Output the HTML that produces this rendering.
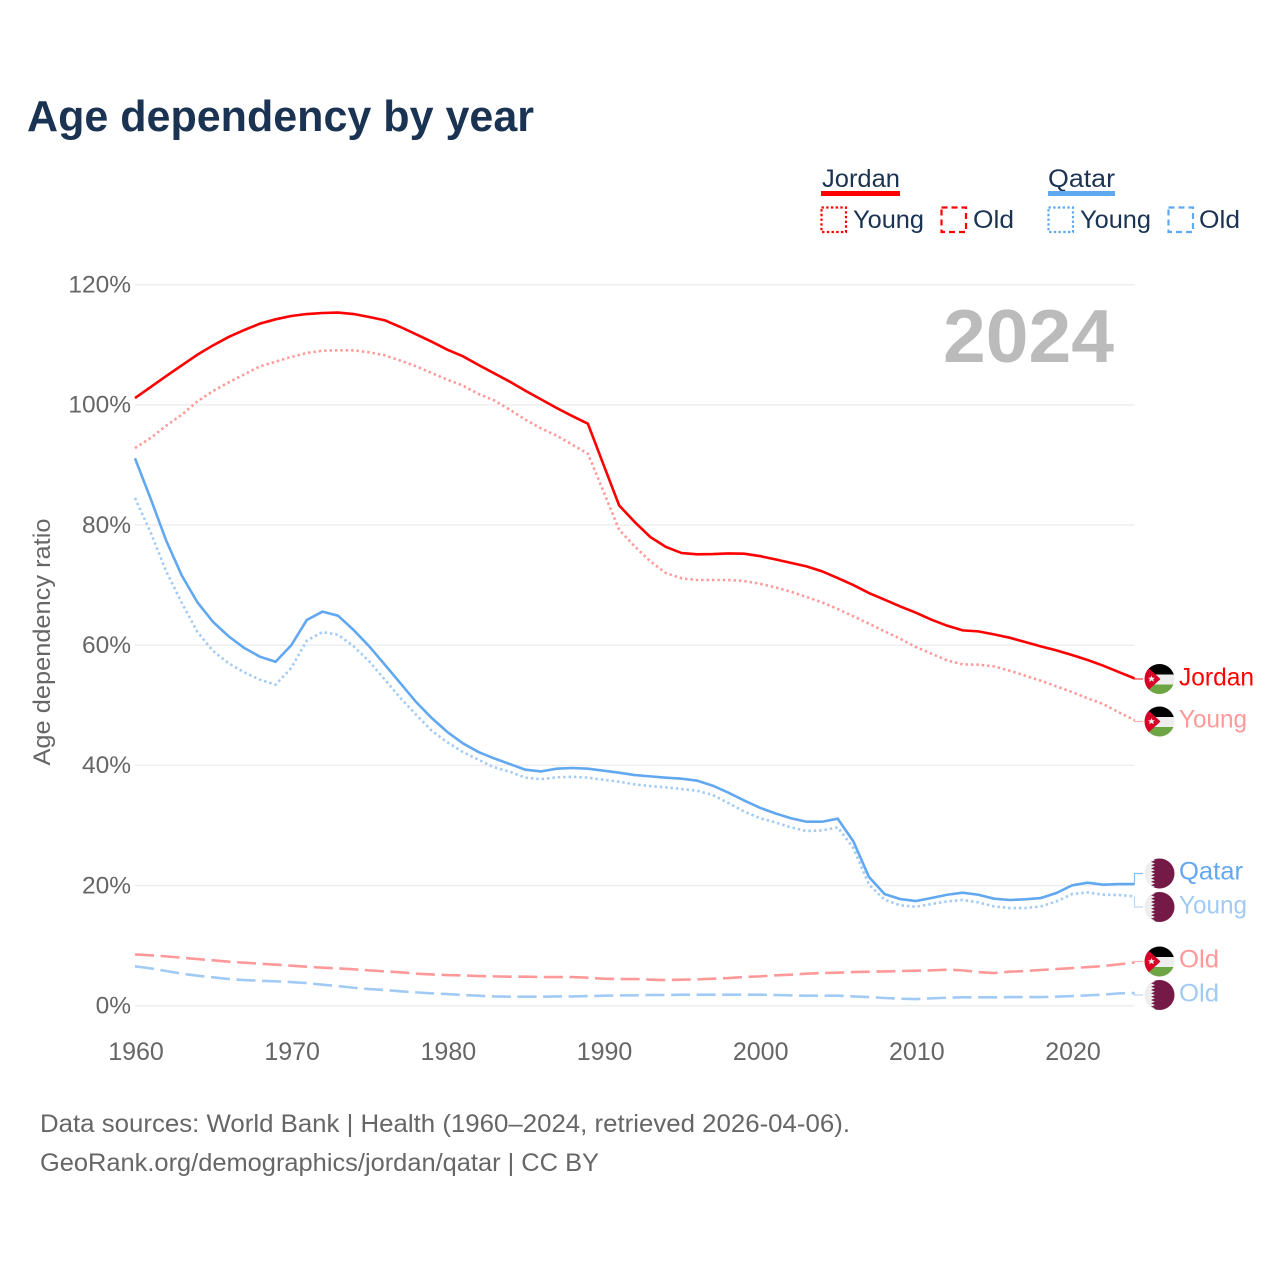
<!DOCTYPE html>
<html lang="en">
<head>
<meta charset="utf-8">
<title>Age dependency by year</title>
<style>
html,body{margin:0;padding:0;background:#fff;}
svg{display:block;font-family:"Liberation Sans",sans-serif;}
</style>
</head>
<body>
<svg id="chart" xmlns="http://www.w3.org/2000/svg" width="1280" height="1280" viewBox="0 0 1280 1280">
  <defs>
    <clipPath id="flag-clip"><circle cx="0" cy="0" r="15"/></clipPath>
    <symbol id="flag-jordan" viewBox="-15 -15 30 30" overflow="visible">
      <g clip-path="url(#flag-clip)">
        <rect x="-15" y="-15" width="30" height="10.5" fill="#000"/>
        <rect x="-15" y="-4.5" width="30" height="10" fill="#eeeeee"/>
        <rect x="-15" y="5.5" width="30" height="9.5" fill="#6da544"/>
        <polygon points="-15,-15 -11,-11 1,0 -11,11 -15,15" fill="#d80027"/>
        <polygon points="-8,-3.4 -7,-1.2 -4.6,-1.2 -6.3,0.3 -5.6,2.8 -8,1.4 -10.4,2.8 -9.7,0.3 -11.4,-1.2 -9,-1.2" fill="#eeeeee"/>
      </g>
    </symbol>
    <symbol id="flag-qatar" viewBox="-15 -15 30 30" overflow="visible">
      <g clip-path="url(#flag-clip)">
        <rect x="-15" y="-15" width="30" height="30" fill="#eeeeee"/>
        <polygon points="15,-15 -8.5,-15 -4.5,-13.3 -8.5,-11.7 -4.5,-10 -8.5,-8.3 -4.5,-6.7 -8.5,-5 -4.5,-3.3 -8.5,-1.7 -4.5,0 -8.5,1.7 -4.5,3.3 -8.5,5 -4.5,6.7 -8.5,8.3 -4.5,10 -8.5,11.7 -4.5,13.3 -8.5,15 15,15" fill="#751a46"/>
      </g>
    </symbol>
  </defs>

  <text x="27" y="131" font-size="44" font-weight="700" fill="#1a3352" textLength="507" lengthAdjust="spacingAndGlyphs">Age dependency by year</text>

  <g font-size="25" fill="#1a3352">
    <g>
      <text x="822" y="187" textLength="78" lengthAdjust="spacingAndGlyphs">Jordan</text>
      <rect x="821" y="191" width="79" height="5" fill="#ff0000"/>
      <rect x="821.5" y="207.5" width="24.5" height="24.5" fill="none" stroke="#ff0000" stroke-width="2.2" stroke-dasharray="2.4 2.3"/>
      <text x="853" y="228" textLength="71" lengthAdjust="spacingAndGlyphs">Young</text>
      <rect x="941.5" y="207.5" width="24.5" height="24.5" fill="none" stroke="#ff0000" stroke-width="2.2" stroke-dasharray="6 4"/>
      <text x="973" y="228" textLength="41" lengthAdjust="spacingAndGlyphs">Old</text>
    </g>
    <g>
      <text x="1048" y="187" textLength="67" lengthAdjust="spacingAndGlyphs">Qatar</text>
      <rect x="1048" y="191" width="67" height="5" fill="#62a8f0"/>
      <rect x="1048.5" y="207.5" width="24.5" height="24.5" fill="none" stroke="#62a8f0" stroke-width="2.2" stroke-dasharray="2.4 2.3"/>
      <text x="1080" y="228" textLength="71" lengthAdjust="spacingAndGlyphs">Young</text>
      <rect x="1168.5" y="207.5" width="24.5" height="24.5" fill="none" stroke="#62a8f0" stroke-width="2.2" stroke-dasharray="6 4"/>
      <text x="1199" y="228" textLength="41" lengthAdjust="spacingAndGlyphs">Old</text>
    </g>
  </g>

  <g id="grid"></g>
  <g id="y-ticks"></g>
  <g id="x-ticks"></g>

  <text transform="translate(50,642) rotate(-90)" text-anchor="middle" font-size="24" fill="#666666" textLength="247" lengthAdjust="spacingAndGlyphs">Age dependency ratio</text>

  <text x="943" y="362" font-size="75" font-weight="700" fill="#bbbbbb" textLength="171" lengthAdjust="spacingAndGlyphs">2024</text>

  <g id="series"></g>
  <g id="leaders"></g>

  <g>
    <use href="#flag-jordan" x="1144.5" y="664" width="30" height="30"/>
    <use href="#flag-jordan" x="1144.5" y="706.5" width="30" height="30"/>
    <use href="#flag-qatar" x="1144.5" y="858.5" width="30" height="30"/>
    <use href="#flag-qatar" x="1144.5" y="892" width="30" height="30"/>
    <use href="#flag-jordan" x="1144.5" y="946.5" width="30" height="30"/>
    <use href="#flag-qatar" x="1144.5" y="980" width="30" height="30"/>
  </g>

  <g font-size="25">
    <text x="1179" y="685.5" fill="#ff0000" textLength="75" lengthAdjust="spacingAndGlyphs">Jordan</text>
    <text x="1179" y="727.5" fill="#ff9999" textLength="68" lengthAdjust="spacingAndGlyphs">Young</text>
    <text x="1179" y="879.5" fill="#62a8f0" textLength="64" lengthAdjust="spacingAndGlyphs">Qatar</text>
    <text x="1179" y="913.5" fill="#a1caf5" textLength="68" lengthAdjust="spacingAndGlyphs">Young</text>
    <text x="1179" y="967.5" fill="#ff9999" textLength="40" lengthAdjust="spacingAndGlyphs">Old</text>
    <text x="1179" y="1001.5" fill="#a1caf5" textLength="40" lengthAdjust="spacingAndGlyphs">Old</text>
  </g>

  <g font-size="25" fill="#666666">
    <text x="40" y="1132" textLength="810" lengthAdjust="spacingAndGlyphs">Data sources: World Bank | Health (1960–2024, retrieved 2026-04-06).</text>
    <text x="40" y="1171" textLength="559" lengthAdjust="spacingAndGlyphs">GeoRank.org/demographics/jordan/qatar | CC BY</text>
  </g>
</svg>

<script>
var years = [1960,1961,1962,1963,1964,1965,1966,1967,1968,1969,1970,1971,1972,1973,1974,1975,1976,1977,1978,1979,1980,1981,1982,1983,1984,1985,1986,1987,1988,1989,1990,1991,1992,1993,1994,1995,1996,1997,1998,1999,2000,2001,2002,2003,2004,2005,2006,2007,2008,2009,2010,2011,2012,2013,2014,2015,2016,2017,2018,2019,2020,2021,2022,2023,2024];
var jordanTotal = [101.14,102.97,104.8,106.58,108.36,109.91,111.3,112.46,113.52,114.24,114.79,115.12,115.29,115.37,115.12,114.62,114.07,112.96,111.74,110.52,109.19,108.08,106.63,105.25,103.86,102.36,100.92,99.48,98.14,96.87,90.04,83.27,80.5,78.0,76.34,75.34,75.12,75.17,75.28,75.23,74.84,74.29,73.7,73.12,72.29,71.18,70.01,68.68,67.57,66.46,65.41,64.24,63.25,62.47,62.3,61.8,61.25,60.53,59.81,59.14,58.36,57.53,56.59,55.53,54.48];
var jordanYoung = [92.82,94.49,96.54,98.37,100.59,102.31,103.75,105.08,106.41,107.19,107.97,108.63,109.02,109.08,109.08,108.74,108.24,107.36,106.41,105.3,104.19,103.2,101.81,100.75,99.2,97.53,96.09,94.87,93.37,91.87,85.6,79.2,76.45,73.95,72.0,71.12,70.85,70.85,70.85,70.68,70.24,69.63,68.9,68.02,67.13,66.02,64.8,63.58,62.3,61.08,59.69,58.59,57.48,56.81,56.75,56.48,55.76,54.92,54.09,53.15,52.21,51.15,50.21,48.82,47.54];
var jordanOld = [8.54,8.38,8.21,7.99,7.77,7.55,7.32,7.16,6.99,6.82,6.66,6.49,6.33,6.21,6.05,5.88,5.71,5.55,5.33,5.21,5.1,5.05,4.94,4.88,4.83,4.83,4.77,4.77,4.77,4.66,4.49,4.44,4.44,4.33,4.27,4.33,4.38,4.49,4.6,4.77,4.88,5.05,5.16,5.33,5.44,5.49,5.6,5.66,5.71,5.77,5.83,5.88,5.99,5.88,5.6,5.44,5.66,5.77,5.94,6.1,6.27,6.43,6.6,6.88,7.2];
var qatarTotal = [91.1,84.4,77.4,71.57,67.13,63.86,61.47,59.53,58.09,57.25,59.97,64.19,65.58,64.91,62.52,59.81,56.75,53.65,50.54,47.88,45.55,43.66,42.22,41.16,40.22,39.28,39.0,39.44,39.56,39.44,39.11,38.78,38.39,38.17,37.95,37.78,37.45,36.61,35.45,34.17,32.95,32.01,31.2,30.62,30.62,31.12,27.35,21.41,18.58,17.75,17.42,17.92,18.47,18.81,18.47,17.81,17.59,17.7,17.92,18.75,20.03,20.47,20.14,20.25,20.25];
var qatarYoung = [84.5,78.78,72.29,67.02,62.19,59.03,56.98,55.48,54.26,53.43,56.2,60.75,62.19,61.75,59.81,57.31,54.26,51.21,48.43,45.77,43.83,42.2,40.94,39.67,38.94,37.95,37.72,38.0,38.11,37.95,37.61,37.28,36.84,36.56,36.34,36.06,35.78,35.06,33.73,32.34,31.23,30.51,29.68,29.07,29.18,29.68,26.24,20.14,17.64,16.7,16.48,16.92,17.36,17.59,17.2,16.53,16.25,16.25,16.53,17.36,18.58,18.86,18.47,18.42,18.2];
var qatarOld = [6.55,6.21,5.77,5.33,4.99,4.72,4.44,4.27,4.16,4.05,3.94,3.77,3.49,3.27,2.99,2.77,2.61,2.39,2.22,2.05,1.94,1.78,1.66,1.55,1.5,1.5,1.5,1.55,1.55,1.61,1.66,1.72,1.72,1.78,1.78,1.83,1.83,1.83,1.83,1.83,1.83,1.78,1.72,1.66,1.66,1.66,1.55,1.44,1.28,1.16,1.11,1.22,1.33,1.39,1.39,1.39,1.44,1.44,1.44,1.5,1.61,1.72,1.83,2.05,2.11];
var yTickValues = [0,20,40,60,80,100,120];
var yTickLabels = ["0%","20%","40%","60%","80%","100%","120%"];
var xTickValues = [1960,1970,1980,1990,2000,2010,2020];
var xTickLabels = ["1960","1970","1980","1990","2000","2010","2020"];

var NS = "http://www.w3.org/2000/svg";
function xScale(year){ return 135 + (year - 1960) * 15.617; }
function yScale(value){ return 1005.7 - value * (1005.7 - 284.7) / 120; }
function linePath(values){
  var d = "";
  for (var i = 0; i < values.length; i++) {
    d += (i ? "L" : "M") + xScale(years[i]).toFixed(2) + " " + yScale(values[i]).toFixed(2);
  }
  return d;
}
var gridGroup = document.getElementById("grid");
var yTickGroup = document.getElementById("y-ticks");
var xTickGroup = document.getElementById("x-ticks");
var seriesGroup = document.getElementById("series");
var leaderGroup = document.getElementById("leaders");

yTickValues.forEach(function(v, i){
  var line = document.createElementNS(NS, "line");
  
  
  line.setAttribute("x1", xScale(1960));
  line.setAttribute("x2", xScale(2024));
  line.setAttribute("y1", yScale(v));
  line.setAttribute("y2", yScale(v));
  line.setAttribute("stroke", "#eeeeee");
  line.setAttribute("stroke-width", 1.5);
  gridGroup.appendChild(line);
  var t = document.createElementNS(NS, "text");
  
  
  t.setAttribute("x", 131);
  t.setAttribute("y", yScale(v) + 7.8);
  t.setAttribute("text-anchor", "end");
  t.setAttribute("font-size", 24.5);
  t.setAttribute("fill", "#666666");
  t.textContent = yTickLabels[i];
  yTickGroup.appendChild(t);
});

xTickValues.forEach(function(v, i){
  var t = document.createElementNS(NS, "text");
  
  
  t.setAttribute("x", xScale(v) + 1);
  t.setAttribute("y", 1060);
  t.setAttribute("text-anchor", "middle");
  t.setAttribute("font-size", 25);
  t.setAttribute("fill", "#666666");
  t.textContent = xTickLabels[i];
  xTickGroup.appendChild(t);
});

function drawSeries(name, values, color, dash){
  var p = document.createElementNS(NS, "path");
  
  
  p.setAttribute("d", linePath(values));
  p.setAttribute("fill", "none");
  p.setAttribute("stroke", color);
  p.setAttribute("stroke-width", 2.6);
  if (dash) p.setAttribute("stroke-dasharray", dash);
  seriesGroup.appendChild(p);
}
var dotted = "2.4 3";
var dashed = "19 6.6";
drawSeries("line-jordan-old", jordanOld, "#ff9999", dashed);
drawSeries("line-qatar-old", qatarOld, "#a1caf5", dashed);
drawSeries("line-jordan-young", jordanYoung, "#ff9999", dotted);
drawSeries("line-qatar-young", qatarYoung, "#a1caf5", dotted);
drawSeries("line-jordan-total", jordanTotal, "#ff0000", null);
drawSeries("line-qatar-total", qatarTotal, "#62a8f0", null);

function drawLeader(name, values, labelY, color){
  var x0 = xScale(2024);
  var y0 = yScale(values[values.length - 1]);
  var p = document.createElementNS(NS, "path");
  
  
  p.setAttribute("d", "M" + x0 + " " + y0 + "L" + x0 + " " + labelY + "L1143 " + labelY);
  p.setAttribute("fill", "none");
  p.setAttribute("stroke", color);
  p.setAttribute("stroke-width", 1.2);
  p.setAttribute("opacity", 0.75);
  leaderGroup.appendChild(p);
}
drawLeader("leader-jordan-total", jordanTotal, 679, "#ff0000");
drawLeader("leader-jordan-young", jordanYoung, 721.5, "#ff9999");
drawLeader("leader-qatar-total", qatarTotal, 873.5, "#62a8f0");
drawLeader("leader-qatar-young", qatarYoung, 907, "#a1caf5");
drawLeader("leader-jordan-old", jordanOld, 961.5, "#ff9999");
drawLeader("leader-qatar-old", qatarOld, 995, "#a1caf5");
</script>
</body>
</html>
